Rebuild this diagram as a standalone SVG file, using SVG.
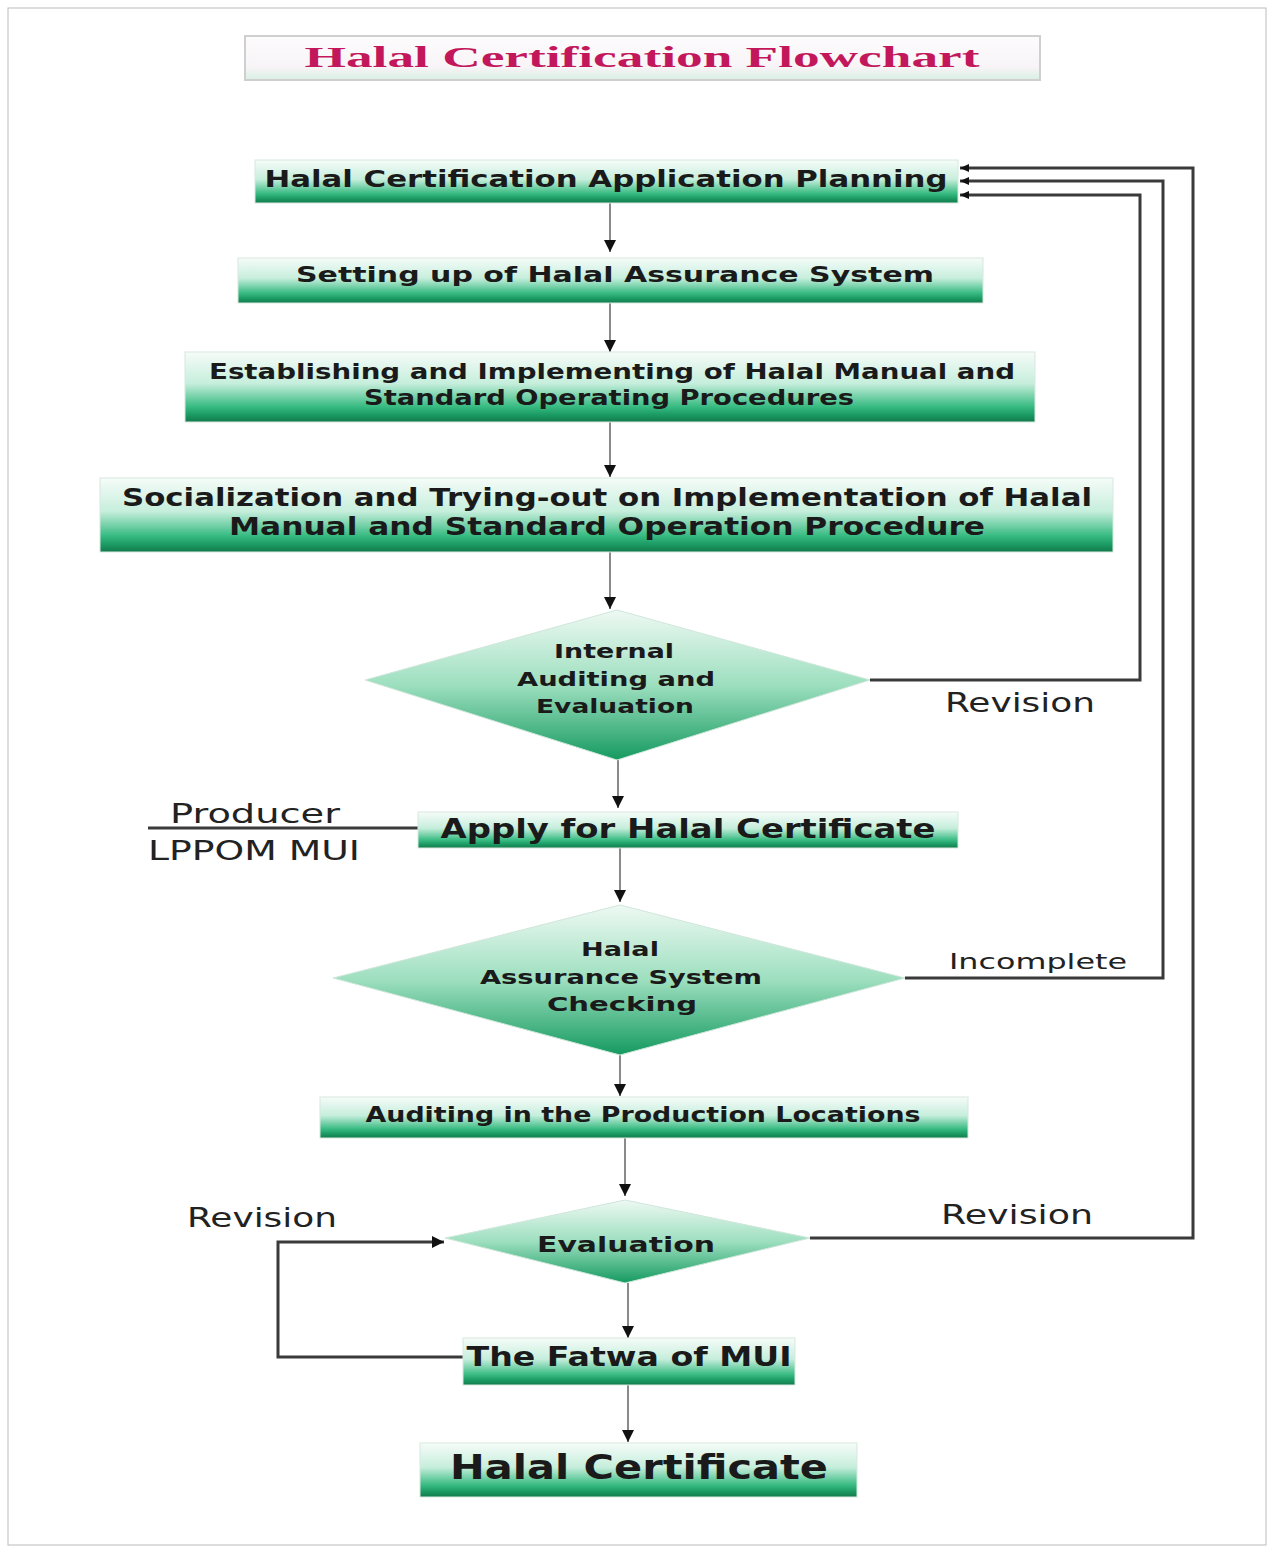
<svg xmlns="http://www.w3.org/2000/svg" width="1274" height="1553" viewBox="0 0 1274 1553">
<style>
.t{font-family:"DejaVu Sans","Liberation Sans",sans-serif;font-weight:bold;fill:#1a1a1a;text-anchor:middle}
.lbl{font-family:"DejaVu Sans","Liberation Sans",sans-serif;fill:#222;text-anchor:middle}
.flow{stroke:#8a8a8a;stroke-width:2;fill:none}
.loop{stroke:#3a3a3a;stroke-width:3;fill:none}
.box{fill:url(#gBox);stroke:#d8e8e0;stroke-width:1}
.dia{fill:url(#gDia);stroke:#cfe6da;stroke-width:1}
</style>
<defs>
<linearGradient id="gBox" x1="0" y1="0" x2="0" y2="1">
<stop offset="0" stop-color="#f6fcf9"/>
<stop offset="0.45" stop-color="#c6eedc"/>
<stop offset="0.78" stop-color="#38bb82"/>
<stop offset="0.9" stop-color="#1b9a63"/>
<stop offset="1" stop-color="#137a4c"/>
</linearGradient>
<linearGradient id="gDia" x1="0" y1="0" x2="0" y2="1">
<stop offset="0" stop-color="#eef9f3"/>
<stop offset="0.5" stop-color="#9ddfbf"/>
<stop offset="1" stop-color="#159a60"/>
</linearGradient>
<linearGradient id="gTitle" x1="0" y1="0" x2="0" y2="1">
<stop offset="0" stop-color="#fdfcfd"/>
<stop offset="0.7" stop-color="#f8f4f7"/>
<stop offset="1" stop-color="#d8efe4"/>
</linearGradient>
<marker id="ah" markerWidth="14" markerHeight="14" refX="12" refY="7" orient="auto" markerUnits="userSpaceOnUse">
<path d="M0,1 L12,7 L0,13 Z" fill="#111"/>
</marker>
<marker id="ahs" markerWidth="10" markerHeight="10" refX="9" refY="5" orient="auto" markerUnits="userSpaceOnUse">
<path d="M0,1 L9,5 L0,9 Z" fill="#111"/>
</marker>
</defs>
<rect x="0" y="0" width="1274" height="1553" fill="#fff"/>
<rect x="8" y="8" width="1258" height="1537" fill="none" stroke="#bbb" stroke-width="1"/>

<g id="title">
<rect x="245" y="36" width="795" height="44" fill="url(#gTitle)" stroke="#cfcfcf" stroke-width="2"/>
<text x="642" y="67" font-family="'Liberation Serif','DejaVu Serif',serif" font-weight="bold" font-size="30" fill="#c2185b" text-anchor="middle" textLength="675" lengthAdjust="spacingAndGlyphs">Halal Certification Flowchart</text>
</g>

<g id="connectors">
<line class="flow" x1="610" y1="203" x2="610" y2="252" marker-end="url(#ah)"/>
<line class="flow" x1="610" y1="303" x2="610" y2="352" marker-end="url(#ah)"/>
<line class="flow" x1="610" y1="422" x2="610" y2="477" marker-end="url(#ah)"/>
<line class="flow" x1="610" y1="552" x2="610" y2="609" marker-end="url(#ah)"/>
<line class="flow" x1="618" y1="760" x2="618" y2="808" marker-end="url(#ah)"/>
<line class="flow" x1="620" y1="848" x2="620" y2="902" marker-end="url(#ah)"/>
<line class="flow" x1="620" y1="1055" x2="620" y2="1096" marker-end="url(#ah)"/>
<line class="flow" x1="625" y1="1138" x2="625" y2="1196" marker-end="url(#ah)"/>
<line class="flow" x1="628" y1="1283" x2="628" y2="1338" marker-end="url(#ah)"/>
<line class="flow" x1="628" y1="1385" x2="628" y2="1442" marker-end="url(#ah)"/>
<polyline class="loop" points="870,680 1140,680 1140,195 960,195" marker-end="url(#ahs)"/>
<polyline class="loop" points="905,978 1163,978 1163,181 960,181" marker-end="url(#ahs)"/>
<polyline class="loop" points="810,1238 1193,1238 1193,168 960,168" marker-end="url(#ahs)"/>
<polyline class="loop" points="463,1357 278,1357 278,1242 444,1242" marker-end="url(#ah)"/>
<line class="loop" x1="148" y1="828" x2="418" y2="828"/>
<text class="lbl" x="1020" y="712" font-size="26" textLength="150" lengthAdjust="spacingAndGlyphs">Revision</text>
<text class="lbl" x="1038" y="969" font-size="22" textLength="178" lengthAdjust="spacingAndGlyphs">Incomplete</text>
<text class="lbl" x="1017" y="1224" font-size="26" textLength="152" lengthAdjust="spacingAndGlyphs">Revision</text>
<text class="lbl" x="262" y="1227" font-size="26" textLength="150" lengthAdjust="spacingAndGlyphs">Revision</text>
<text class="lbl" x="255" y="823" font-size="26" textLength="170" lengthAdjust="spacingAndGlyphs">Producer</text>
<text class="lbl" x="254" y="860" font-size="26" textLength="212" lengthAdjust="spacingAndGlyphs">LPPOM MUI</text>
</g>

<g id="n1">
<rect class="box" x="255" y="160" width="703" height="43"/>
<text class="t" x="606" y="187" font-size="23" textLength="683" lengthAdjust="spacingAndGlyphs">Halal Certification Application Planning</text>
</g>
<g id="n2">
<rect class="box" x="238" y="258" width="745" height="45"/>
<text class="t" x="615" y="282" font-size="22" textLength="638" lengthAdjust="spacingAndGlyphs">Setting up of Halal Assurance System</text>
</g>
<g id="n3">
<rect class="box" x="185" y="352" width="850" height="70"/>
<text class="t" x="612" y="379" font-size="22" textLength="806" lengthAdjust="spacingAndGlyphs">Establishing and Implementing of Halal Manual and</text>
<text class="t" x="609" y="405" font-size="22" textLength="490" lengthAdjust="spacingAndGlyphs">Standard Operating Procedures</text>
</g>
<g id="n4">
<rect class="box" x="100" y="478" width="1013" height="74"/>
<text class="t" x="607" y="506" font-size="24" textLength="970" lengthAdjust="spacingAndGlyphs">Socialization and Trying-out on Implementation of Halal</text>
<text class="t" x="607" y="535" font-size="24" textLength="756" lengthAdjust="spacingAndGlyphs">Manual and Standard Operation Procedure</text>
</g>
<g id="d1">
<polygon class="dia" points="617,610 870,680 617,760 365,680"/>
<text class="t" x="614" y="658" font-size="20" textLength="120" lengthAdjust="spacingAndGlyphs">Internal</text>
<text class="t" x="616" y="686" font-size="20" textLength="198" lengthAdjust="spacingAndGlyphs">Auditing and</text>
<text class="t" x="615" y="713" font-size="20" textLength="158" lengthAdjust="spacingAndGlyphs">Evaluation</text>
</g>
<g id="n5">
<rect class="box" x="418" y="812" width="540" height="36"/>
<text class="t" x="688" y="838" font-size="26" textLength="495" lengthAdjust="spacingAndGlyphs">Apply for Halal Certificate</text>
</g>
<g id="d2">
<polygon class="dia" points="620,905 905,978 620,1055 333,978"/>
<text class="t" x="620" y="956" font-size="20" textLength="78" lengthAdjust="spacingAndGlyphs">Halal</text>
<text class="t" x="621" y="984" font-size="20" textLength="282" lengthAdjust="spacingAndGlyphs">Assurance  System</text>
<text class="t" x="622" y="1011" font-size="20" textLength="150" lengthAdjust="spacingAndGlyphs">Checking</text>
</g>
<g id="n6">
<rect class="box" x="320" y="1097" width="648" height="41"/>
<text class="t" x="643" y="1122" font-size="21" textLength="555" lengthAdjust="spacingAndGlyphs">Auditing in the Production Locations</text>
</g>
<g id="d3">
<polygon class="dia" points="625,1200 810,1238 625,1283 445,1238"/>
<text class="t" x="626" y="1252" font-size="22" textLength="178" lengthAdjust="spacingAndGlyphs">Evaluation</text>
</g>
<g id="n7">
<rect class="box" x="463" y="1338" width="332" height="47"/>
<text class="t" x="629" y="1366" font-size="26" textLength="325" lengthAdjust="spacingAndGlyphs">The Fatwa of MUI</text>
</g>
<g id="n8">
<rect class="box" x="420" y="1443" width="437" height="54"/>
<text class="t" x="639" y="1479" font-size="33" textLength="378" lengthAdjust="spacingAndGlyphs">Halal Certificate</text>
</g>
</svg>
